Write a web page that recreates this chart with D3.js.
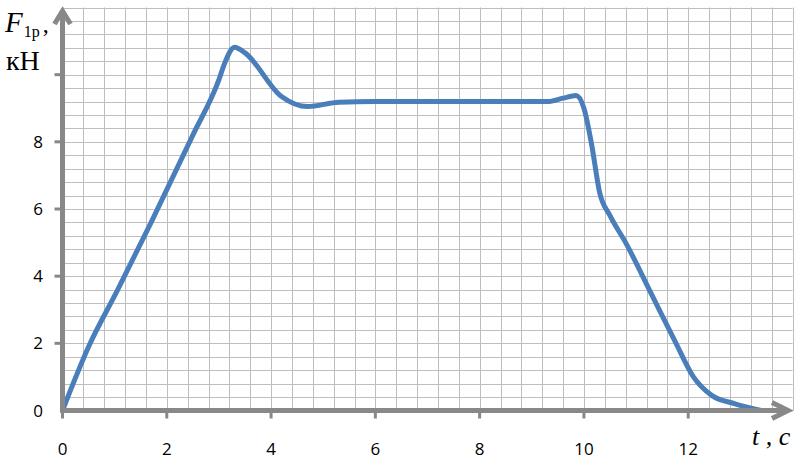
<!DOCTYPE html>
<html>
<head>
<meta charset="utf-8">
<script src="https://cdn.jsdelivr.net/npm/d3@7"></script>
<style>
  body { margin: 0; background: #fff; }
  svg { display: block; }
</style>
</head>
<body>
<div id="chart"></div>
<script>
// time, s
var tValues = [0, 0.5, 1.05, 1.7, 2.5, 3.0, 3.1, 3.3, 3.5, 4.2, 4.7, 5.3, 6, 7, 8, 9.3, 9.6, 9.85,
               10.0, 10.15, 10.3, 10.5, 10.8, 11.3, 11.75, 12.1, 12.45, 12.9, 13.4];
// force, kN
var fValues = [0, 1.9, 3.57, 5.6, 8.2, 9.85, 10.3, 10.82, 10.65, 9.35, 9.05, 9.18, 9.2, 9.2, 9.2, 9.2, 9.3, 9.38,
               9.0, 7.9, 6.5, 5.8, 5.0, 3.45, 2.05, 1.0, 0.45, 0.2, 0.0];
var xTicks = [0, 2, 4, 6, 8, 10, 12];
var yTicks = [0, 2, 4, 6, 8];
var xTickMarks = [0, 2, 4, 6, 8, 10, 12];
var yTickMarks = [2, 4, 6, 8, 10];

var w = 812, h = 460;
var axisColor = "#888888";
var gridColor = "#bdbdbd";
var lineColor = "#4a7ebb";

var svg = d3.select("#chart").append("svg")
    .attr("width", w)
    .attr("height", h);

var x = d3.scaleLinear().domain([0, 14]).range([62.5, 792.5]);
var y = d3.scaleLinear().domain([0, 12]).range([410.5, 7.5]);

// grid every 0.4
var gx = d3.range(0, 36).map(function(i) { return i * 0.4; });
var gy = d3.range(0, 31).map(function(i) { return i * 0.4; });

svg.append("g").selectAll("line").data(gx).enter().append("line")
    .attr("x1", function(d) { return Math.round(x(d)) + 0.5; })
    .attr("x2", function(d) { return Math.round(x(d)) + 0.5; })
    .attr("y1", y(0)).attr("y2", y(12))
    .attr("stroke", gridColor).attr("stroke-width", 1);

svg.append("g").selectAll("line").data(gy).enter().append("line")
    .attr("y1", function(d) { return Math.round(y(d)) + 0.5; })
    .attr("y2", function(d) { return Math.round(y(d)) + 0.5; })
    .attr("x1", x(0)).attr("x2", x(14))
    .attr("stroke", gridColor).attr("stroke-width", 1);

// tick stubs
svg.append("g").selectAll("line").data(xTickMarks).enter().append("line")
    .attr("x1", function(d) { return x(d); }).attr("x2", function(d) { return x(d); })
    .attr("y1", y(0)).attr("y2", y(0) + 8)
    .attr("stroke", axisColor).attr("stroke-width", 3);

svg.append("g").selectAll("line").data(yTickMarks).enter().append("line")
    .attr("y1", function(d) { return y(d); }).attr("y2", function(d) { return y(d); })
    .attr("x1", x(0) - 8).attr("x2", x(0))
    .attr("stroke", axisColor).attr("stroke-width", 3);

// curve
var pts = tValues.map(function(t, i) { return [t, fValues[i]]; });
var line = d3.line()
    .x(function(d) { return x(d[0]); })
    .y(function(d) { return y(d[1]); })
    .curve(d3.curveMonotoneX);

svg.append("path")
    .datum(pts)
    .attr("d", line)
    .attr("fill", "none")
    .attr("stroke", lineColor)
    .attr("stroke-width", 5)
    .attr("stroke-linecap", "round")
    .attr("stroke-linejoin", "round");

// axes with open arrows
var ax = svg.append("g")
    .attr("stroke", axisColor)
    .attr("stroke-width", 5)
    .attr("fill", "none")
    .attr("stroke-linecap", "butt");

ax.append("line").attr("x1", x(0)).attr("x2", x(0)).attr("y1", y(0) + 2).attr("y2", 10);
ax.append("path").attr("d", "M" + (x(0) - 8) + ",24 L" + x(0) + ",11 L" + (x(0) + 8) + ",24")
    .attr("stroke-linejoin", "miter");

ax.append("line").attr("x1", x(0) - 2).attr("x2", 789).attr("y1", y(0)).attr("y2", y(0));
ax.append("path").attr("d", "M772," + (y(0) - 8) + " L788," + y(0) + " L772," + (y(0) + 8))
    .attr("stroke-linejoin", "miter");

// tick labels
svg.append("g").selectAll("text").data(xTicks).enter().append("text")
    .attr("x", function(d) { return x(d); })
    .attr("y", 455)
    .attr("text-anchor", "middle")
    .attr("font-family", "'Open Sans', 'Liberation Sans', Arial, sans-serif")
    .attr("font-size", "17px")
    .attr("fill", "#000")
    .text(function(d) { return d; });

svg.append("g").selectAll("text").data(yTicks).enter().append("text")
    .attr("x", 43)
    .attr("y", function(d) { return y(d) + 6; })
    .attr("text-anchor", "end")
    .attr("font-family", "'Open Sans', 'Liberation Sans', Arial, sans-serif")
    .attr("font-size", "17px")
    .attr("fill", "#000")
    .text(function(d) { return d; });

// axis titles
var yt = svg.append("text")
    .attr("x", 5)
    .attr("y", 32)
    .attr("font-family", "'Liberation Serif', 'Times New Roman', serif")
    .attr("font-size", "29px")
    .attr("fill", "#000");
yt.append("tspan").attr("font-style", "italic").text("F");
yt.append("tspan").attr("font-size", "16px").attr("dy", 5).attr("dx", 1).text("1р");
yt.append("tspan").attr("font-size", "24px").attr("dy", -5).attr("dx", 3).text(",");

svg.append("text")
    .attr("x", 6)
    .attr("y", 70)
    .attr("font-family", "'Liberation Serif', 'Times New Roman', serif")
    .attr("font-size", "28px")
    .attr("fill", "#000")
    .text("кН");

svg.append("text")
    .attr("x", 752)
    .attr("y", 445)
    .attr("font-family", "'Liberation Serif', 'Times New Roman', serif")
    .attr("font-style", "italic")
    .attr("font-size", "26px")
    .attr("fill", "#000")
    .attr("xml:space", "preserve")
    .text("t , c");
</script>
</body>
</html>
